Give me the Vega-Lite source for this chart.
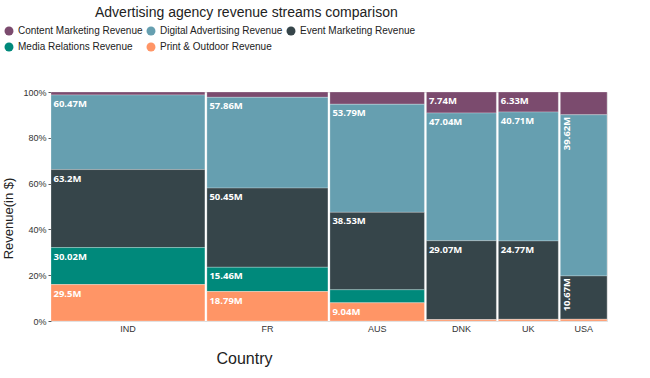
{
  "$schema": "https://vega.github.io/schema/vega-lite/v6.json",
  "width": 556,
  "height": 229,
  "autosize": {"type": "none"},
  "padding": {"left": 51, "top": 92, "right": 43, "bottom": 57},
  "background": "white",
  "title": {
    "text": "Advertising agency revenue streams comparison",
    "anchor": "start",
    "frame": "group",
    "dx": 44,
    "offset": 6,
    "font": "Liberation Sans",
    "fontSize": 14,
    "fontWeight": "normal",
    "color": "#222222"
  },
  "data": {
    "values": [
      {"Country": "IND", "Revenue": "Content Marketing Revenue", "value": 2.4},
      {"Country": "IND", "Revenue": "Digital Advertising Revenue", "value": 60.47},
      {"Country": "IND", "Revenue": "Event Marketing Revenue", "value": 63.2},
      {"Country": "IND", "Revenue": "Media Relations Revenue", "value": 30.02},
      {"Country": "IND", "Revenue": "Print & Outdoor Revenue", "value": 29.5},
      {"Country": "FR", "Revenue": "Content Marketing Revenue", "value": 3.4},
      {"Country": "FR", "Revenue": "Digital Advertising Revenue", "value": 57.86},
      {"Country": "FR", "Revenue": "Event Marketing Revenue", "value": 50.45},
      {"Country": "FR", "Revenue": "Media Relations Revenue", "value": 15.46},
      {"Country": "FR", "Revenue": "Print & Outdoor Revenue", "value": 18.79},
      {"Country": "AUS", "Revenue": "Content Marketing Revenue", "value": 6.1},
      {"Country": "AUS", "Revenue": "Digital Advertising Revenue", "value": 53.79},
      {"Country": "AUS", "Revenue": "Event Marketing Revenue", "value": 38.53},
      {"Country": "AUS", "Revenue": "Media Relations Revenue", "value": 6.5},
      {"Country": "AUS", "Revenue": "Print & Outdoor Revenue", "value": 9.04},
      {"Country": "DNK", "Revenue": "Content Marketing Revenue", "value": 7.74},
      {"Country": "DNK", "Revenue": "Digital Advertising Revenue", "value": 47.04},
      {"Country": "DNK", "Revenue": "Event Marketing Revenue", "value": 29.07},
      {"Country": "DNK", "Revenue": "Media Relations Revenue", "value": 0},
      {"Country": "DNK", "Revenue": "Print & Outdoor Revenue", "value": 0.5},
      {"Country": "UK", "Revenue": "Content Marketing Revenue", "value": 6.33},
      {"Country": "UK", "Revenue": "Digital Advertising Revenue", "value": 40.71},
      {"Country": "UK", "Revenue": "Event Marketing Revenue", "value": 24.77},
      {"Country": "UK", "Revenue": "Media Relations Revenue", "value": 0},
      {"Country": "UK", "Revenue": "Print & Outdoor Revenue", "value": 0.5},
      {"Country": "USA", "Revenue": "Content Marketing Revenue", "value": 5.6},
      {"Country": "USA", "Revenue": "Digital Advertising Revenue", "value": 39.62},
      {"Country": "USA", "Revenue": "Event Marketing Revenue", "value": 10.67},
      {"Country": "USA", "Revenue": "Media Relations Revenue", "value": 0},
      {"Country": "USA", "Revenue": "Print & Outdoor Revenue", "value": 0.4}
    ]
  },
  "transform": [
    {"joinaggregate": [{"op": "sum", "field": "value", "as": "Total"}], "groupby": ["Country"]},
    {"window": [{"op": "dense_rank", "as": "rank"}], "sort": [{"field": "Total", "order": "descending"}]},
    {"stack": "value", "groupby": [], "sort": [{"field": "rank", "order": "ascending"}, {"field": "Revenue", "order": "descending"}], "as": ["sx0", "sx1"]},
    {"joinaggregate": [{"op": "min", "field": "sx0", "as": "X0"}, {"op": "max", "field": "sx1", "as": "X1"}], "groupby": ["Country"]},
    {"calculate": "datum.X0 + (datum.rank - 1) * 2.4", "as": "gx0"},
    {"calculate": "datum.X1 + (datum.rank - 1) * 2.4", "as": "gx1"},
    {"calculate": "(datum.gx0 + datum.gx1) / 2", "as": "xc"},
    {"stack": "value", "groupby": ["Country"], "sort": [{"field": "Revenue", "order": "descending"}], "offset": "normalize", "as": ["y0", "y1"]},
    {"calculate": "format(datum.value, '.2~f') + 'M'", "as": "label"}
  ],
  "layer": [
    {
      "mark": {"type": "rect", "stroke": "white", "strokeWidth": 1, "strokeOpacity": 0.25},
      "encoding": {
        "x": {
          "field": "gx0", "type": "quantitative",
          "scale": {"nice": false, "zero": true},
          "axis": {"title": "Country", "labels": false, "ticks": false, "domain": false, "grid": false,
                   "titleFont": "Liberation Sans", "titleFontSize": 16, "titleFontWeight": "normal",
                   "titleColor": "#222222", "titlePadding": 29, "titleX": 193}
        },
        "x2": {"field": "gx1"},
        "y": {
          "field": "y0", "type": "quantitative",
          "scale": {"domain": [0, 1], "nice": false},
          "axis": {"format": ".0%", "values": [0, 0.2, 0.4, 0.6, 0.8, 1], "grid": false, "domain": false,
                   "tickSize": 3, "tickColor": "#555555", "labelPadding": 2,
                   "labelFont": "Liberation Sans", "labelFontSize": 9, "labelColor": "#333333",
                   "title": "Revenue(in $)", "titleFont": "Liberation Sans", "titleFontSize": 13,
                   "titleFontWeight": "normal", "titleColor": "#222222", "titlePadding": 7, "titleY": 126}
        },
        "y2": {"field": "y1"},
        "color": {
          "field": "Revenue", "type": "nominal",
          "scale": {
            "domain": ["Content Marketing Revenue", "Digital Advertising Revenue", "Event Marketing Revenue", "Media Relations Revenue", "Print & Outdoor Revenue"],
            "range": ["#7b4b6e", "#669fb0", "#36454a", "#00897b", "#ff9566"]
          },
          "legend": {
            "orient": "none", "legendX": -47, "legendY": -66, "columns": 3, "direction": "horizontal", "title": null,
            "symbolType": "circle", "symbolSize": 80, "symbolStrokeWidth": 0, "symbolOpacity": 1,
            "labelFont": "Liberation Sans", "labelFontSize": 10, "labelColor": "#222222",
            "labelOffset": 4, "columnPadding": 3, "rowPadding": 6, "labelLimit": 300
          }
        }
      }
    },
    {
      "transform": [{"filter": "datum.Country != 'USA' && datum.y1 - datum.y0 > 0.07"}],
      "mark": {"type": "text", "align": "left", "baseline": "top", "dx": 2.5, "dy": 4,
               "color": "white", "font": "Open Sans", "fontWeight": "bold", "fontSize": 9.5},
      "encoding": {
        "x": {"field": "gx0", "type": "quantitative"},
        "y": {"field": "y1", "type": "quantitative"},
        "text": {"field": "label", "type": "nominal"}
      }
    },
    {
      "transform": [{"filter": "datum.Country == 'USA' && datum.y1 - datum.y0 > 0.15"}],
      "mark": {"type": "text", "align": "right", "baseline": "middle", "angle": 270, "dx": -2, "dy": 7,
               "color": "white", "font": "Open Sans", "fontWeight": "bold", "fontSize": 9.5},
      "encoding": {
        "x": {"field": "gx0", "type": "quantitative"},
        "y": {"field": "y1", "type": "quantitative"},
        "text": {"field": "label", "type": "nominal"}
      }
    },
    {
      "transform": [{"filter": "datum.Revenue == 'Event Marketing Revenue'"}],
      "mark": {"type": "text", "align": "center", "baseline": "top", "dy": 4,
               "color": "#333333", "font": "Liberation Sans", "fontSize": 9},
      "encoding": {
        "x": {"field": "xc", "type": "quantitative"},
        "y": {"datum": 0},
        "text": {"field": "Country", "type": "nominal"}
      }
    }
  ]
}
